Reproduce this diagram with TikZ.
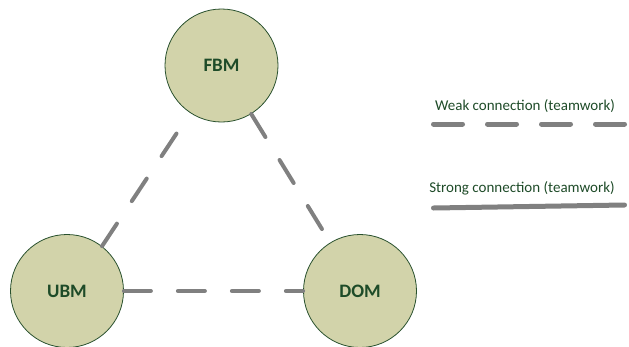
\documentclass[tikz,border=0pt]{standalone}
\usepackage{fontspec}
\setmainfont{Carlito}
\definecolor{nodefill}{RGB}{210,211,170}
\definecolor{nodeline}{RGB}{40,80,45}
\definecolor{txtgreen}{RGB}{30,75,40}
\definecolor{linkgray}{RGB}{128,128,128}
\tikzset{
  unit/.style={circle, minimum size=113pt, inner sep=0pt, fill=nodefill, draw=nodeline, line width=0.8pt, text=txtgreen, font=\fontsize{19}{22}\selectfont\bfseries},
  weaklink/.style={draw=linkgray, line width=4pt, line cap=round, dash pattern=on 27pt off 27pt},
  legendweak/.style={draw=linkgray, line width=5pt, line cap=round, dash pattern=on 29pt off 25pt},
  stronglink/.style={draw=linkgray, line width=5pt, line cap=round},
  legendtext/.style={text=txtgreen, font=\fontsize{15}{17}\selectfont, inner sep=0pt}
}
\begin{document}
\begin{tikzpicture}[x=1pt,y=-1pt]
\useasboundingbox (0,0) rectangle (629,346);
\clip (0,0) rectangle (629,346);
\node[unit] (fbm) at (221.5,65.5) {FBM};
\node[unit] (ubm) at (67,291) {UBM};
\node[unit] (dom) at (360,291) {DOM};
\draw[weaklink] (ubm.52) -- (fbm);
\draw[weaklink] (fbm) -- (dom);
\draw[weaklink] (ubm) -- (dom);
\node[legendtext] (weak) at (525,106) {Weak connection (teamwork)};
\node[legendtext] (strong) at (522,188) {Strong connection (teamwork)};
\coordinate (w1) at (433.5,124);
\coordinate (w2) at (624.5,124);
\coordinate (s1) at (433.5,208);
\coordinate (s2) at (624.5,205);
\draw[legendweak] (w1) -- (w2);
\draw[stronglink] (s1) -- (s2);
\end{tikzpicture}
\end{document}
